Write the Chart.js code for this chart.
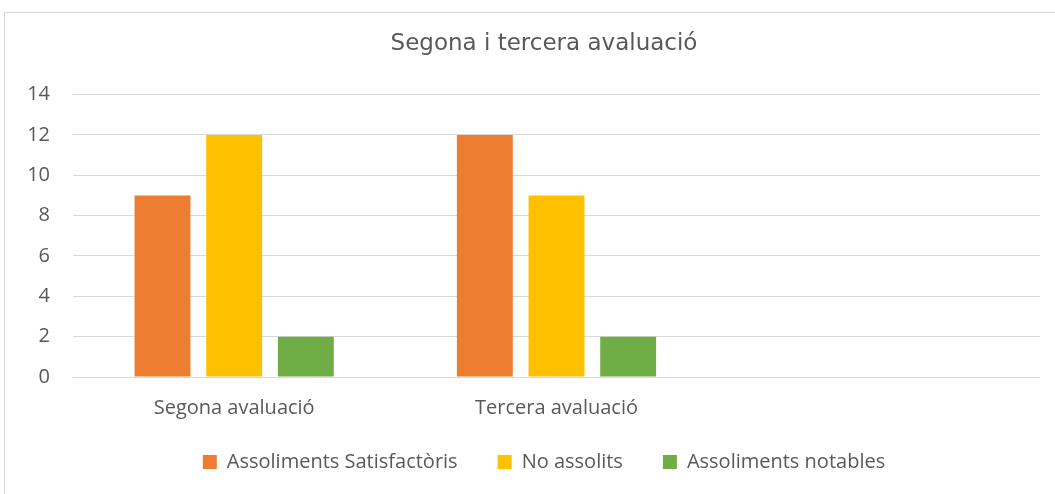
<!DOCTYPE html>
<html>
<head>
<meta charset="utf-8">
<script src="https://cdn.jsdelivr.net/npm/chart.js@4/dist/chart.umd.min.js"></script>
<style>
  html, body { margin: 0; padding: 0; background: #fff; overflow: hidden; }
  #frame { position: absolute; left: 4px; top: 12px; width: 1078px; height: 490px; border: 1px solid #d9d9d9; }
  #chart { display: block; }
</style>
</head>
<body>
<div id="frame"><canvas id="chart" width="1078" height="490"></canvas></div>
<script>
/* --------------- Data --------------------- */
const categories = ["Segona avaluació", "Tercera avaluació", ""];
const satisfactoris = [9, 12, null];
const noAssolits = [12, 9, null];
const notables = [2, 2, null];
const yTicks = [0, 2, 4, 6, 8, 10, 12, 14];

const textColor = "#595959";
const font = "'Open Sans', 'DejaVu Sans', sans-serif";

/* --------------- Title and legend centred on the whole frame --------------------- */
const centerBoxes = {
  id: "centerBoxes",
  afterLayout(chart) {
    const w = chart.width;
    chart.titleBlock.left = 0;
    chart.titleBlock.right = w;
    chart.legend.left = 0;
    chart.legend.right = w;
    chart.legend.top -= 9;
    chart.legend.bottom -= 9;
  },
};

/* --------------- Chart --------------------- */
const ctx = document.getElementById("chart");
const chart = new Chart(ctx, {
  type: "bar",
  plugins: [centerBoxes],
  data: {
    labels: categories,
    datasets: [
      { label: "Assoliments Satisfactòris", data: satisfactoris, backgroundColor: "#ED7D31" },
      { label: "No assolits", data: noAssolits, backgroundColor: "#FFC000" },
      { label: "Assoliments notables", data: notables, backgroundColor: "#70AD47" },
    ],
  },
  options: {
    responsive: false,
    animation: false,
    layout: { padding: { left: 0, right: 43, top: 0, bottom: 12 } },
    datasets: { bar: { barPercentage: 0.78, categoryPercentage: 0.667 } },
    plugins: {
      tooltip: { enabled: false },
      title: {
        display: true,
        text: "Segona i tercera avaluació",
        color: textColor,
        font: { family: "'DejaVu Sans', sans-serif", size: 23, weight: "normal" },
        padding: { top: 17, bottom: 37 },
      },
      legend: {
        position: "bottom",
        labels: {
          color: textColor,
          font: { family: font, size: 20 },
          boxWidth: 14,
          boxHeight: 14,
          padding: 40,
        },
      },
    },
    scales: {
      x: {
        afterFit: (scale) => { scale.height = 44; },
        grid: { display: false },
        border: { display: false },
        ticks: { color: textColor, font: { family: font, size: 20 }, padding: 11 },
      },
      y: {
        min: 0,
        max: 14,
        afterFit: (scale) => { scale.width = 68; },
        afterBuildTicks: (scale) => { scale.ticks = yTicks.map((v) => ({ value: v })); },
        grid: { color: "#d9d9d9", lineWidth: 1, drawTicks: false },
        border: { display: false },
        ticks: { color: textColor, font: { family: font, size: 20 }, padding: 23 },
      },
    },
  },
});
</script>
</body>
</html>
